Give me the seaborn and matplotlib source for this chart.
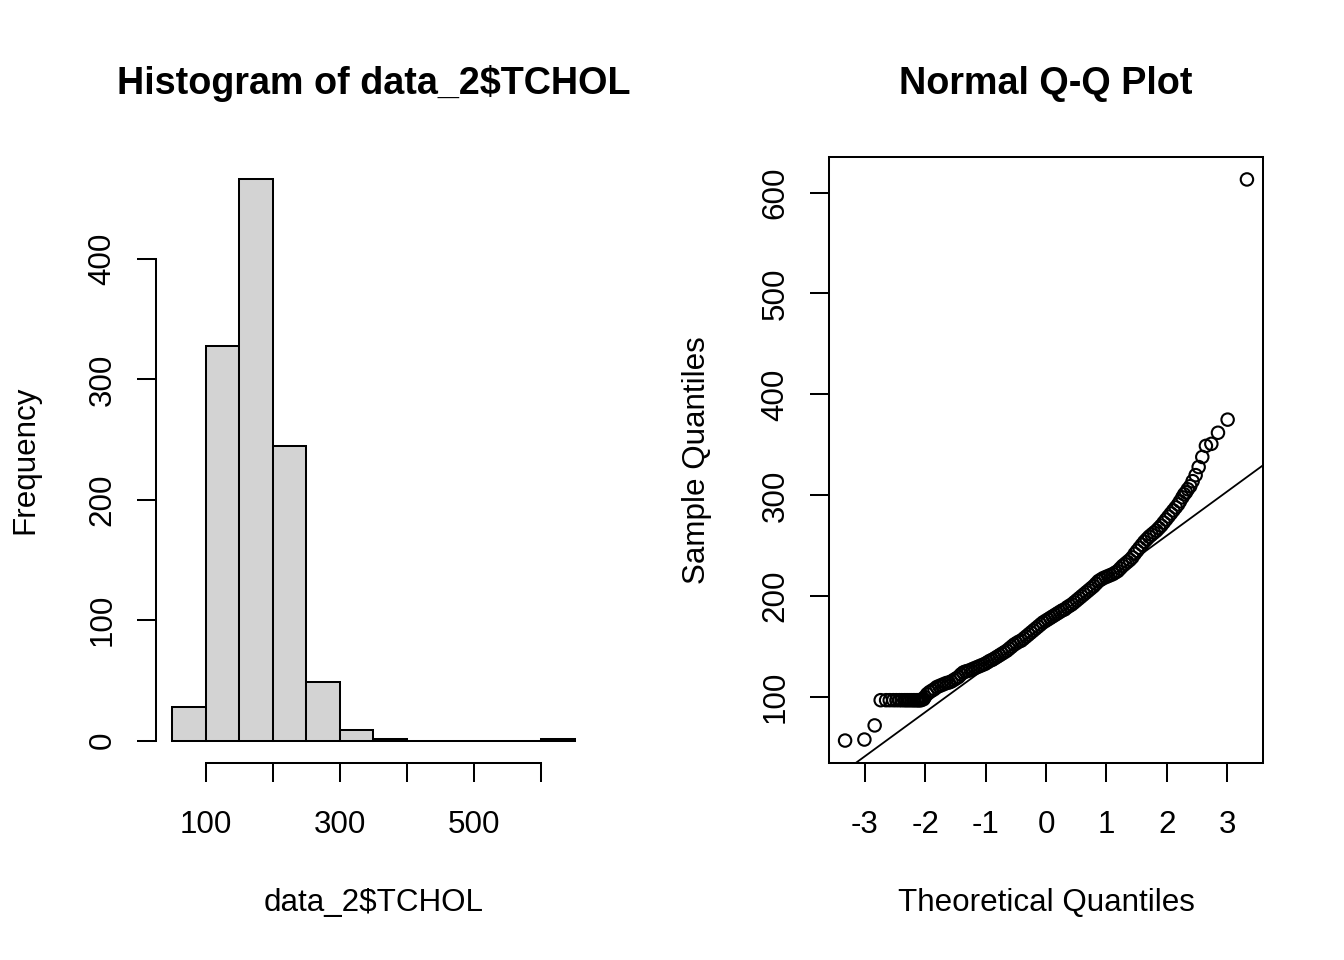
import matplotlib
matplotlib.use("Agg")
import matplotlib.pyplot as plt
import seaborn as sns
import numpy as np

# --- histogram of data_2$TCHOL ---
BIN_EDGES = [50, 100, 150, 200, 250, 300, 350, 400, 450, 500, 550, 600, 650]
COUNTS = [28, 328, 466, 245, 49, 9, 1, 0, 0, 0, 0, 1]
HIST_XTICKS = [100, 200, 300, 400, 500, 600]
HIST_XTICKLABELS = ["100", "", "300", "", "500", ""]
HIST_YTICKS = [0, 100, 200, 300, 400]

# --- normal Q-Q plot ---
QQ_THEO = [
    -3.33, -3.01, -2.84,
    -2.74, -2.65, -2.59, -2.53, -2.48, -2.43, -2.39, -2.35, -2.32, -2.29,
    -2.26, -2.23, -2.20, -2.18, -2.15, -2.13, -2.11, -2.09, -2.07, -2.05, -2.03,
    -2.01, -1.97, -1.93, -1.89, -1.85, -1.81, -1.77, -1.73, -1.69, -1.65,
    -1.61, -1.57, -1.53, -1.49, -1.45, -1.41, -1.37, -1.33, -1.29, -1.25,
    -1.21, -1.17, -1.13, -1.09, -1.05, -1.01, -0.97, -0.93, -0.89, -0.85,
    -0.81, -0.77, -0.73, -0.69, -0.65, -0.61, -0.57, -0.53, -0.49, -0.45,
    -0.41, -0.37, -0.33, -0.29, -0.25, -0.21, -0.17, -0.13, -0.09, -0.05,
    -0.01, 0.03, 0.07, 0.11, 0.15, 0.19, 0.23, 0.27, 0.31, 0.35,
    0.39, 0.43, 0.47, 0.51, 0.55, 0.59, 0.63, 0.67, 0.71, 0.75,
    0.79, 0.83, 0.87, 0.91, 0.95, 0.99, 1.03, 1.07, 1.11, 1.15,
    1.19, 1.23, 1.27, 1.31, 1.35, 1.39, 1.43, 1.47, 1.51, 1.55,
    1.59, 1.63, 1.67, 1.71, 1.75, 1.79, 1.83, 1.87, 1.91, 1.95,
    1.99, 2.03, 2.07, 2.11, 2.15,
    2.19, 2.22, 2.26, 2.29, 2.32, 2.35, 2.39, 2.43, 2.48, 2.53,
    2.59, 2.65, 2.74, 2.85, 3.01, 3.33,
]
QQ_SAMPLE = [
    57, 58, 72,
    97, 97, 97, 97, 97, 97, 97, 97, 97, 97,
    97, 97, 97, 97, 97, 97, 97, 97, 97, 98, 98,
    100, 103, 105, 106.5, 108, 110, 111, 112, 113, 114,
    114.5, 115.5, 117, 118.5, 120, 122.5, 124.5, 125.5, 126, 127,
    128, 129, 130, 131, 132, 133, 134.5, 136, 137, 138.5,
    140, 141.5, 143, 144.5, 146, 148, 150, 152, 153.5, 155,
    156, 158, 160, 162, 164, 166, 168, 170, 172, 174,
    175.5, 177, 178.5, 180, 181.5, 183, 184.5, 186, 187, 189,
    190.5, 192, 194, 196, 198, 200, 202, 204, 206, 208,
    210, 212.5, 215, 216.5, 218, 219, 220, 221, 222, 223.5,
    225, 227.5, 230, 232, 234, 236, 238.5, 242, 245, 248,
    251, 254, 256.5, 259, 261, 263, 265, 267.5, 270, 273,
    276, 279, 282, 285, 288,
    291, 294, 298, 301, 303, 306, 309, 314, 320, 328,
    338, 349, 351, 362, 375, 613,
]
QQ_LINE_INTERCEPT = 172.6
QQ_LINE_SLOPE = 43.7
QQ_XTICKS = [-3, -2, -1, 0, 1, 2, 3]
QQ_YTICKS = [100, 200, 300, 400, 500, 600]

FS = 22.6
LW = 1.45


def r_limits(lo, hi):
    # R pads the data range by 4% on each side
    d = (hi - lo) * 0.04
    return lo - d, hi + d


sns.set_theme(style="ticks")
plt.rcParams["font.family"] = ["Liberation Sans", "DejaVu Sans"]
plt.rcParams["axes.linewidth"] = LW
plt.rcParams["axes.unicode_minus"] = False
plt.rcParams["text.color"] = "black"
plt.rcParams["axes.labelcolor"] = "black"
plt.rcParams["axes.edgecolor"] = "black"

fig = plt.figure(figsize=(13.44, 9.6), dpi=100)
ax1 = fig.add_axes([0.11607, 0.20521, 0.32366, 0.63125])
ax2 = fig.add_axes([0.61682, 0.20521, 0.32292, 0.63125])

# ---------------- histogram ----------------
sns.histplot(x=BIN_EDGES[:-1], weights=COUNTS, bins=BIN_EDGES, ax=ax1,
             color="#D3D3D3", edgecolor="black", linewidth=LW, alpha=1)
ax1.set_xlim(*r_limits(BIN_EDGES[0], BIN_EDGES[-1]))
ax1.set_ylim(*r_limits(0, max(COUNTS)))
ax1.set_xticks(HIST_XTICKS)
ax1.set_xticklabels(HIST_XTICKLABELS)
ax1.set_yticks(HIST_YTICKS)
ax1.spines["top"].set_visible(False)
ax1.spines["right"].set_visible(False)
ax1.spines["bottom"].set_bounds(HIST_XTICKS[0], HIST_XTICKS[-1])
ax1.spines["left"].set_bounds(HIST_YTICKS[0], HIST_YTICKS[-1])
ax1.set_title("Histogram of data_2$TCHOL", fontsize=27.2, fontweight="bold",
              y=1.107, va="center", color="black")
ax1.set_xlabel("data_2$TCHOL", fontsize=FS)
ax1.set_ylabel("Frequency", fontsize=FS)
ax1.xaxis.set_label_coords(0.5, -0.231)
ax1.yaxis.set_label_coords(-0.3011, 0.5)

# ---------------- Q-Q plot ----------------
sns.scatterplot(x=QQ_THEO, y=QQ_SAMPLE, ax=ax2, marker="o", s=80,
                facecolors="none", edgecolors="black", linewidth=1.5)
ax2.axline((0, QQ_LINE_INTERCEPT), slope=QQ_LINE_SLOPE, color="black", linewidth=LW * 0.9)
ax2.set_xlim(*r_limits(min(QQ_THEO), max(QQ_THEO)))
ax2.set_ylim(*r_limits(min(QQ_SAMPLE), max(QQ_SAMPLE)))
ax2.set_xticks(QQ_XTICKS)
ax2.set_yticks(QQ_YTICKS)
for s in ax2.spines.values():
    s.set_visible(True)
    s.set_color("black")
ax2.set_title("Normal Q-Q Plot", fontsize=27.2, fontweight="bold", y=1.107,
              va="center", color="black")
ax2.set_xlabel("Theoretical Quantiles", fontsize=FS)
ax2.set_ylabel("Sample Quantiles", fontsize=FS)
ax2.xaxis.set_label_coords(0.5, -0.231)
ax2.yaxis.set_label_coords(-0.3041, 0.5)

for ax in (ax1, ax2):
    ax.tick_params(axis="both", direction="out", length=13.7, width=LW,
                   color="black", labelsize=FS, labelcolor="black")
    ax.tick_params(axis="x", pad=20.5)
    ax.tick_params(axis="y", pad=14)
    for lab in ax.get_yticklabels():
        lab.set_rotation(90)
        lab.set_va("center")
    ax.xaxis.label.set_va("center")
    ax.yaxis.label.set_va("center")
    ax.set_facecolor("white")
    ax.grid(False)

fig.savefig("out.png", dpi=100, facecolor="white")
